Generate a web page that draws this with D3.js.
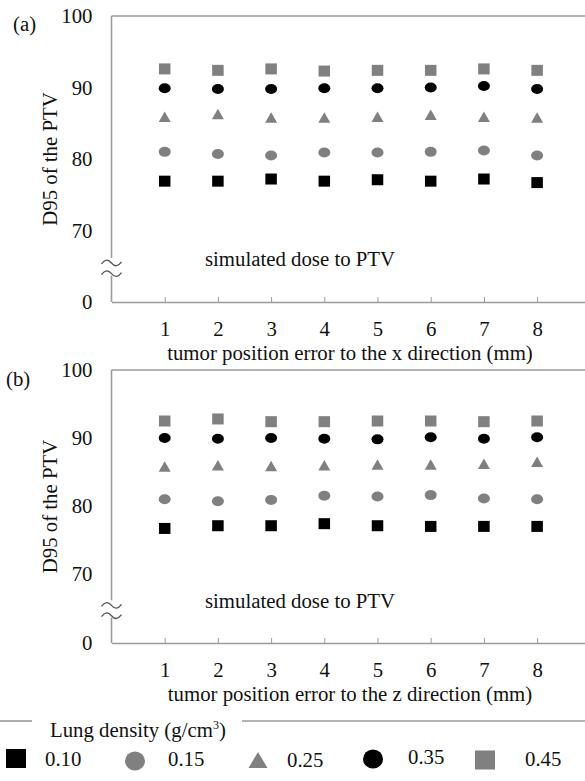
<!DOCTYPE html>
<html>
<head>
<meta charset="utf-8">
<script src="https://cdn.jsdelivr.net/npm/d3@7"></script>
<style>
  html, body { margin: 0; padding: 0; background: #fff; }
  svg { display: block; }
  text { font-family: "Liberation Serif", "Times New Roman", serif; fill: #111; }
</style>
</head>
<body>
<svg id="chart" width="585" height="781"></svg>
<script>
// ---- data ----
const positionErrors = [1, 2, 3, 4, 5, 6, 7, 8];
const densityLabels = ["0.10", "0.15", "0.25", "0.35", "0.45"];
const yTickValues = [0, 70, 80, 90, 100];

// (a) x direction
const xDir_010 = [76.9, 76.9, 77.2, 76.9, 77.1, 76.9, 77.2, 76.7];
const xDir_015 = [81.0, 80.7, 80.5, 80.9, 80.9, 81.0, 81.2, 80.5];
const xDir_025 = [85.9, 86.3, 85.8, 85.8, 85.9, 86.2, 85.9, 85.8];
const xDir_035 = [89.9, 89.8, 89.8, 89.9, 89.9, 90.0, 90.2, 89.8];
const xDir_045 = [92.6, 92.4, 92.6, 92.3, 92.4, 92.4, 92.6, 92.4];
// (b) z direction
const zDir_010 = [76.7, 77.1, 77.1, 77.4, 77.1, 77.0, 77.0, 77.0];
const zDir_015 = [81.0, 80.7, 80.9, 81.5, 81.4, 81.6, 81.1, 81.0];
const zDir_025 = [85.8, 86.0, 85.9, 86.0, 86.1, 86.1, 86.2, 86.5];
const zDir_035 = [90.0, 89.9, 90.0, 89.9, 89.8, 90.1, 89.9, 90.1];
const zDir_045 = [92.5, 92.8, 92.4, 92.4, 92.5, 92.5, 92.4, 92.5];

// ---- styles ----
const FS = 20.8;
const GRAY = "#808080";
const BLACK = "#000000";
const AXIS = "#9a9a9a";
const seriesStyle = [
  { shape: "square", color: BLACK },
  { shape: "circle", color: GRAY },
  { shape: "triangle", color: GRAY },
  { shape: "circle", color: BLACK },
  { shape: "square", color: GRAY }
];

const svg = d3.select("#chart");

function drawMarker(g, shape, color, cx, cy, w, h) {
  if (shape === "square") {
    g.append("rect").attr("x", cx - w / 2).attr("y", cy - h / 2)
      .attr("width", w).attr("height", h).attr("fill", color);
  } else if (shape === "circle") {
    g.append("ellipse").attr("cx", cx).attr("cy", cy)
      .attr("rx", w / 2).attr("ry", h / 2).attr("fill", color);
  } else {
    g.append("path")
      .attr("d", `M${cx},${cy - h / 2}L${cx + w / 2},${cy + h / 2}L${cx - w / 2},${cy + h / 2}Z`)
      .attr("fill", color);
  }
}

function panel(opts) {
  const { top, y70, bottom, series, label, labelX, labelY, xTitle } = opts;
  const left = 111.5, right = 585;
  const x = d3.scaleLinear().domain([0, 8.9]).range([left, right]);
  const y = d3.scaleLinear().domain([0, 70, 100]).range([bottom, y70, top]);
  const g = svg.append("g");

  // top frame line
  g.append("line").attr("x1", left).attr("x2", right).attr("y1", top).attr("y2", top)
    .attr("stroke", AXIS).attr("stroke-width", 1.6);

  // x axis (ticks pointing up)
  const xAxis = d3.axisBottom(x).tickValues(positionErrors).tickSizeInner(-5).tickSizeOuter(0).tickPadding(19);
  const xa = g.append("g").attr("transform", `translate(0,${bottom})`).call(xAxis)
    .attr("font-family", "Liberation Serif").attr("font-size", FS);
  xa.select(".domain").attr("stroke", AXIS).attr("stroke-width", 1.6);
  xa.selectAll(".tick line").attr("stroke", AXIS).attr("stroke-width", 1);
  xa.selectAll(".tick text").attr("fill", "#111");

  // y axis, with break
  const gap = y(0) - y(70);
  const b1 = y(70) + 0.44 * gap, b2 = y(70) + 0.59 * gap;
  const yAxis = d3.axisLeft(y).tickValues(yTickValues).tickSize(0).tickPadding(19);
  const ya = g.append("g").attr("transform", `translate(${left},0)`).call(yAxis)
    .attr("font-family", "Liberation Serif").attr("font-size", FS);
  ya.select(".domain").remove();
  ya.selectAll(".tick text").attr("fill", "#111");
  g.append("line").attr("x1", left).attr("x2", left).attr("y1", top).attr("y2", b1 - 4)
    .attr("stroke", AXIS).attr("stroke-width", 1.6);
  g.append("line").attr("x1", left).attr("x2", left).attr("y1", b2 + 3).attr("y2", bottom)
    .attr("stroke", AXIS).attr("stroke-width", 1.6);
  [b1, b2].forEach(by => {
    g.append("path")
      .attr("d", `M${left - 10},${by + 2}q5,-7 10,-1t10,-1`)
      .attr("fill", "none").attr("stroke", "#555").attr("stroke-width", 1.3);
  });

  // y title
  g.append("text")
    .attr("transform", `translate(57,${(top + bottom) / 2}) rotate(-90)`)
    .attr("text-anchor", "middle").attr("font-size", FS)
    .text("D95 of the PTV");

  // panel label
  g.append("text").attr("x", labelX).attr("y", labelY).attr("font-size", FS).text(label);

  // inner annotation
  g.append("text").attr("x", 205).attr("y", y(70) + 0.41 * gap + 6)
    .attr("font-size", FS).text("simulated dose to PTV");

  // x title
  g.append("text").attr("x", 350).attr("y", bottom + 58)
    .attr("text-anchor", "middle").attr("font-size", FS).text(xTitle);

  // markers
  series.forEach((vals, si) => {
    const st = seriesStyle[si];
    vals.forEach((v, i) => {
      const cx = x(positionErrors[i]), cy = y(v);
      if (st.shape === "square") drawMarker(g, "square", st.color, cx, cy, 11.5, 11);
      else if (st.shape === "circle") drawMarker(g, "circle", st.color, cx, cy, 12, 10);
      else drawMarker(g, "triangle", st.color, cx, cy, 12, 10.5);
    });
  });
}

panel({
  top: 16, y70: 230.5, bottom: 302,
  series: [xDir_010, xDir_015, xDir_025, xDir_035, xDir_045],
  label: "(a)", labelX: 13, labelY: 31,
  xTitle: "tumor position error to the x direction (mm)"
});
panel({
  top: 370, y70: 574, bottom: 643,
  series: [zDir_010, zDir_015, zDir_025, zDir_035, zDir_045],
  label: "(b)", labelX: 6, labelY: 386,
  xTitle: "tumor position error to the z direction (mm)"
});

// ---- legend ----
const lg = svg.append("g");
lg.append("line").attr("x1", 0).attr("x2", 32).attr("y1", 721).attr("y2", 721)
  .attr("stroke", AXIS).attr("stroke-width", 1.6);
lg.append("line").attr("x1", 242).attr("x2", 585).attr("y1", 721).attr("y2", 721)
  .attr("stroke", AXIS).attr("stroke-width", 1.6);
const lt = lg.append("text").attr("x", 50).attr("y", 737).attr("font-size", FS);
lt.append("tspan").text("Lung density (g/cm");
lt.append("tspan").attr("font-size", 12).attr("dy", -8).text("3");
lt.append("tspan").attr("dy", 8).text(")");

const legendMarkerX = [16, 135, 258, 373, 485];
const legendLabelX = [45, 168, 287, 408, 525];
const legendMarkerY = [758.5, 761, 760, 759, 760];
const legendLabelY = [766, 766, 767, 764, 766];
densityLabels.forEach((d, i) => {
  const st = seriesStyle[i];
  if (st.shape === "square") drawMarker(lg, "square", st.color, legendMarkerX[i], legendMarkerY[i], 20, 19);
  else if (st.shape === "circle") drawMarker(lg, "circle", st.color, legendMarkerX[i], legendMarkerY[i], 20, 19);
  else drawMarker(lg, "triangle", st.color, legendMarkerX[i], legendMarkerY[i], 19, 16);
  lg.append("text").attr("x", legendLabelX[i]).attr("y", legendLabelY[i]).attr("font-size", FS).text(d);
});
</script>
</body>
</html>
